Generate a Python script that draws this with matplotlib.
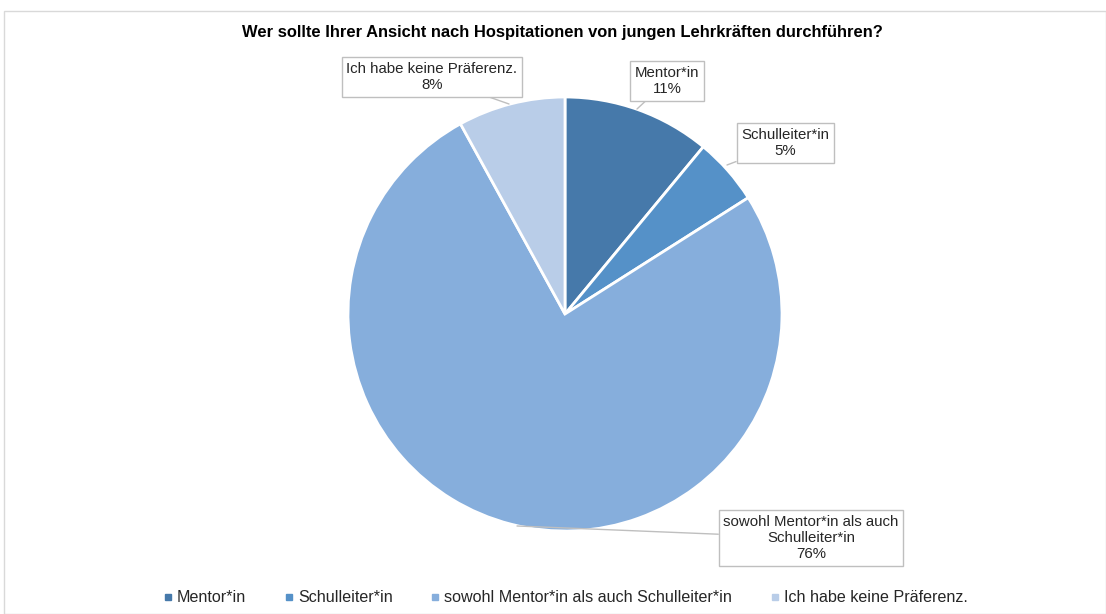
import matplotlib.pyplot as plt
from matplotlib.patches import Rectangle
from matplotlib.lines import Line2D

plt.rcParams['font.family'] = ['Liberation Sans', 'DejaVu Sans']

categories = ["Mentor*in", "Schulleiter*in", "sowohl Mentor*in als auch Schulleiter*in", "Ich habe keine Präferenz."]
label_texts = ["Mentor*in\n11%", "Schulleiter*in\n5%", "sowohl Mentor*in als auch\nSchulleiter*in\n76%", "Ich habe keine Präferenz.\n8%"]
values = [11, 5, 76, 8]
colors = ["#4679aa", "#5591c8", "#86aedc", "#b9cde8"]

W, H = 1106, 614
fig = plt.figure(figsize=(W / 100, H / 100), dpi=100)

# outer frame
fig.patches.append(Rectangle((4 / W, 0), 1 - 4 / W, 1 - 11 / H, transform=fig.transFigure,
                             fill=False, edgecolor="#d9d9d9", linewidth=1))

cx, cy, r = 565, 314, 217
ax = fig.add_axes([(cx - r) / W, (H - cy - r) / H, 2 * r / W, 2 * r / H])
wedges, _ = ax.pie(values, colors=colors, startangle=90, counterclock=False, radius=1,
                   wedgeprops=dict(edgecolor="white", linewidth=2))
ax.set_xlim(-1, 1)
ax.set_ylim(-1, 1)
ax.set_aspect("equal")
ax.axis("off")


def px(x, y):
    return ((x - cx) / r, (cy - y) / r)


# label boxes: text centre, arrow tip (pie edge)
label_pos = [(667, 81), (785, 143), (811, 538), (432, 77)]
tips = [(637, 109), (727, 165), (517, 526), (509, 104)]
for txt, pos, tip in zip(label_texts, label_pos, tips):
    ax.annotate(txt, xy=px(*tip), xytext=px(*pos), ha="center", va="center",
                fontsize=10.8, color="#262626", linespacing=1.2,
                bbox=dict(boxstyle="square,pad=0.3", fc="white", ec="#bfbfbf", lw=1),
                arrowprops=dict(arrowstyle="-", color="#bfbfbf", lw=1,
                                shrinkA=0, shrinkB=0),
                annotation_clip=False)

fig.text(cx / W - 3 / W, 1 - 32 / H, "Wer sollte Ihrer Ansicht nach Hospitationen von jungen Lehrkräften durchführen?",
         ha="center", va="center", fontsize=11.9, fontweight="bold", color="black")

handles = [Line2D([], [], marker="s", linestyle="", markersize=4, markerfacecolor=c,
                  markeredgecolor=c) for c in colors]
fig.legend(handles, categories, loc="center", bbox_to_anchor=(cx / W, 1 - 598 / H), ncol=4,
           frameon=False, fontsize=11.6, handletextpad=0.2, columnspacing=2.3,
           handlelength=0.7, labelcolor="#262626")

fig.savefig("out.png", dpi=100)
